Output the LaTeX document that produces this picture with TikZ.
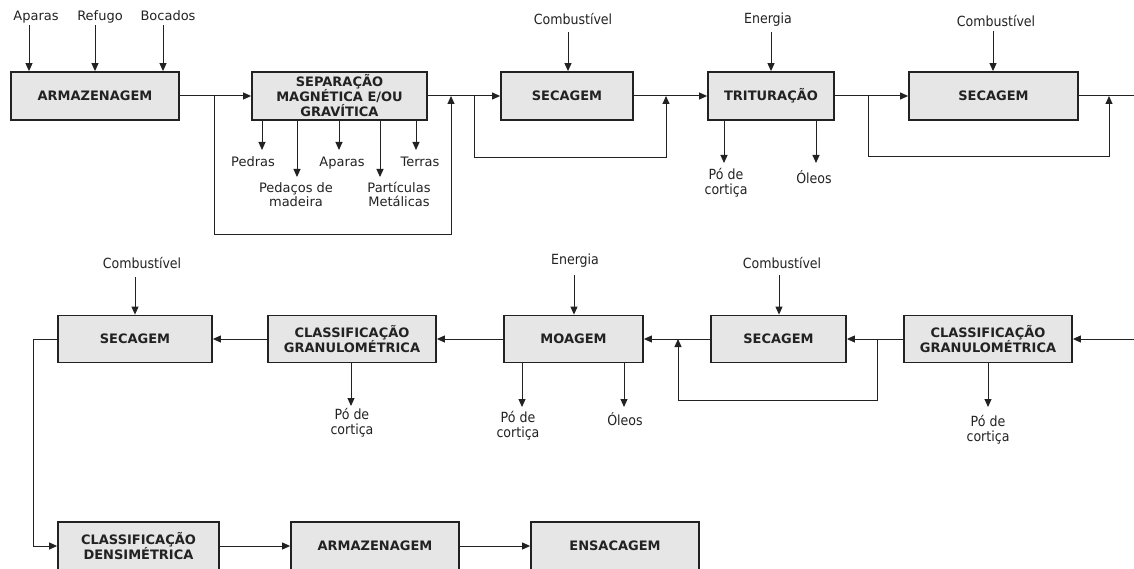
\documentclass[tikz,border=0pt]{standalone}
\usepackage{fontspec}
\setmainfont{DejaVu Sans}
\newfontfamily\condfont{DejaVu Sans Condensed}
\usetikzlibrary{arrows.meta}
\definecolor{boxfill}{HTML}{E6E6E6}
\definecolor{ink}{HTML}{222222}
\begin{document}
\begin{tikzpicture}[x=1pt,y=-1pt,
  proc/.style={draw=ink, line width=1.8pt, fill=boxfill, text=ink, align=center, inner sep=0pt,
    font=\fontsize{13}{15}\selectfont\bfseries},
  lab/.style={text=ink, align=center, inner sep=0pt, anchor=base, font=\fontsize{13}{14}\selectfont},
  clab/.style={text=ink, align=center, inner sep=0pt, anchor=base, font=\condfont\fontsize{14}{15}\selectfont},
  arr/.style={draw=ink, line width=1pt, -{Triangle[length=8pt,width=7pt]}},
  ln/.style={draw=ink, line width=1pt}]
\useasboundingbox (0,0) rectangle (1134,569);

% ---------- top row ----------
\node[proc, minimum width=168, minimum height=48] (A1)  at (95,96)    {ARMAZENAGEM};
\node[proc, minimum width=175, minimum height=48] (SEP) at (339.5,96) {SEPARAÇÃO\\MAGNÉTICA E/OU\\GRAVÍTICA};
\node[proc, minimum width=132, minimum height=48] (S1)  at (567,96)   {SECAGEM};
\node[proc, minimum width=126, minimum height=48] (TRI) at (771,96)   {TRITURAÇÃO};
\node[proc, minimum width=169, minimum height=48] (S2)  at (993.5,96) {SECAGEM};

% ---------- middle row ----------
\node[proc, minimum width=154, minimum height=47] (S3)  at (135,339)   {SECAGEM};
\node[proc, minimum width=168, minimum height=47] (CG1) at (352,339)   {CLASSIFICAÇÃO\\GRANULOMÉTRICA};
\node[proc, minimum width=139, minimum height=47] (MO)  at (573.5,339) {MOAGEM};
\node[proc, minimum width=135, minimum height=47] (S4)  at (778.5,339) {SECAGEM};
\node[proc, minimum width=168, minimum height=47] (CG2) at (988,339)   {CLASSIFICAÇÃO\\GRANULOMÉTRICA};

% ---------- bottom row ----------
\node[proc, minimum width=161, minimum height=48] (CD) at (138.5,546) {CLASSIFICAÇÃO\\DENSIMÉTRICA};
\node[proc, minimum width=168, minimum height=48] (A2) at (375,546)   {ARMAZENAGEM};
\node[proc, minimum width=168, minimum height=48] (EN) at (615,546)   {ENSACAGEM};

% ---------- input labels ----------
\node[lab] (lAp) at (36,21)  {Aparas};
\node[lab] (lRe) at (100,21) {Refugo};
\node[lab] (lBo) at (168,21) {Bocados};
\node[clab] (lC1) at (573,25)  {Combustível};
\node[clab] (lE1) at (768,24)  {Energia};
\node[clab] (lC2) at (996,27)  {Combustível};
\node[clab] (lC3) at (142,269) {Combustível};
\node[clab] (lE2) at (575,265) {Energia};
\node[clab] (lC4) at (782,268) {Combustível};

\coordinate (i1) at (29,25);
\coordinate (i2) at (95,25);
\coordinate (i3) at (163,25);
\coordinate (i4) at (568,32);
\coordinate (i5) at (771,32);
\coordinate (i6) at (993,31);
\coordinate (i7) at (135,277);
\coordinate (i8) at (574,275);
\coordinate (i9) at (779,275);
\draw[arr] (i1) -- (i1 |- A1.north);
\draw[arr] (i2) -- (i2 |- A1.north);
\draw[arr] (i3) -- (i3 |- A1.north);
\draw[arr] (i4) -- (i4 |- S1.north);
\draw[arr] (i5) -- (i5 |- TRI.north);
\draw[arr] (i6) -- (i6 |- S2.north);
\draw[arr] (i7) -- (i7 |- S3.north);
\draw[arr] (i8) -- (i8 |- MO.north);
\draw[arr] (i9) -- (i9 |- S4.north);

% ---------- output labels (base = last line) ----------
\node[lab] (oPe) at (253,167) {Pedras};
\node[lab] (oPm) at (296,207) {Pedaços de\\madeira};
\node[lab] (oAp) at (342,167) {Aparas};
\node[lab] (oPa) at (399,207) {Partículas\\Metálicas};
\node[lab] (oTe) at (420,167) {Terras};
\node[clab] (oT1) at (726,195) {Pó de\\cortiça};
\node[clab] (oT2) at (814,184) {Óleos};
\node[clab] (oG1) at (352,434) {Pó de\\cortiça};
\node[clab] (oM1) at (518,437) {Pó de\\cortiça};
\node[clab] (oM2) at (625,425) {Óleos};
\node[clab] (oG2) at (988,441) {Pó de\\cortiça};

\coordinate (o1) at (262,150);
\coordinate (o2) at (297,177);
\coordinate (o3) at (339,150);
\coordinate (o4) at (380,177);
\coordinate (o5) at (416,150);
\coordinate (o6) at (724,163);
\coordinate (o7) at (816,163);
\coordinate (o8) at (351,406);
\coordinate (o9) at (522,407);
\coordinate (o10) at (624,407);
\coordinate (o11) at (988,407);
\draw[arr] (SEP.south -| o1) -- (o1);
\draw[arr] (SEP.south -| o2) -- (o2);
\draw[arr] (SEP.south -| o3) -- (o3);
\draw[arr] (SEP.south -| o4) -- (o4);
\draw[arr] (SEP.south -| o5) -- (o5);
\draw[arr] (TRI.south -| o6) -- (o6);
\draw[arr] (TRI.south -| o7) -- (o7);
\draw[arr] (CG1.south -| o8) -- (o8);
\draw[arr] (MO.south -| o9) -- (o9);
\draw[arr] (MO.south -| o10) -- (o10);
\draw[arr] (CG2.south -| o11) -- (o11);

% ---------- main flow, top row ----------
\coordinate (j1) at (214,96);
\coordinate (r1) at (451,96);
\coordinate (j2) at (474,96);
\coordinate (r2) at (666,96);
\coordinate (j3) at (868,96);
\coordinate (r3) at (1109,96);
\coordinate (eR1) at (1134,96);
\draw[arr] (A1.east) -- (SEP.west);
\draw[arr] (SEP.east) -- (S1.west);
\draw[arr] (S1.east) -- (TRI.west);
\draw[arr] (TRI.east) -- (S2.west);
\draw[ln] (S2.east) -- (eR1);
\draw[arr] (j1) -- ++(0,139) -| (r1);
\draw[arr] (j2) -- ++(0,62) -| (r2);
\draw[arr] (j3) -- ++(0,61) -| (r3);

% ---------- main flow, middle row ----------
\coordinate (eR2) at (1134,339);
\coordinate (j4) at (877,339);
\coordinate (r4) at (678,339);
\coordinate (k1) at (33,339);
\draw[arr] (eR2) -- (CG2.east);
\draw[arr] (CG2.west) -- (S4.east);
\draw[arr] (S4.west) -- (MO.east);
\draw[arr] (MO.west) -- (CG1.east);
\draw[arr] (CG1.west) -- (S3.east);
\draw[arr] (j4) -- ++(0,61) -| (r4);
\draw[arr] (S3.west) -- (k1) |- (CD.west);

% ---------- bottom row ----------
\draw[arr] (CD.east) -- (A2.west);
\draw[arr] (A2.east) -- (EN.west);
\end{tikzpicture}
\end{document}
